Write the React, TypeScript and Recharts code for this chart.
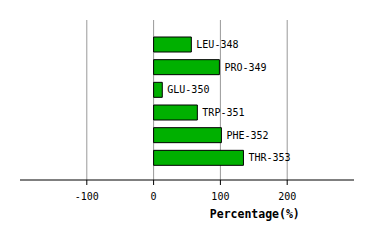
import { BarChart, Bar, XAxis, YAxis, CartesianGrid, LabelList } from 'recharts';

const residues = ['LEU-348', 'PRO-349', 'GLU-350', 'TRP-351', 'PHE-352', 'THR-353'];
const percentages = [56.5, 98.5, 13, 65.5, 101.5, 134.5];
const xTicks = [-100, 0, 100, 200];

const data = residues.map((name, i) => ({ name, value: percentages[i] }));

const FONT = '"DejaVu Sans Mono", monospace';

export default function App() {
  return (
    <div style={{ position: 'absolute', left: 0, top: 0, width: 374, height: 240, background: '#fff' }}>
      <BarChart
        width={374}
        height={240}
        data={data}
        layout="vertical"
        margin={{ top: 20, right: 20, bottom: 30, left: 20 }}
      >
        <CartesianGrid horizontal={false} stroke="#999" verticalValues={xTicks} />
        <XAxis
          type="number"
          domain={[-200, 300]}
          ticks={xTicks}
          allowDataOverflow
          height={30}
          axisLine={{ stroke: '#000' }}
          tickLine={{ stroke: '#000' }}
          tickSize={5}
          tickMargin={8}
          tick={{ fill: '#000', fontSize: 10, fontFamily: FONT }}
          label={{
            content: ({ viewBox }: any) => (
              <text
                x={viewBox.x + viewBox.width * 0.703}
                y={viewBox.y + 38}
                textAnchor="middle"
                fontFamily={FONT}
                fontSize={11.5}
                fontWeight="bold"
                fill="#000"
              >
                Percentage(%)
              </text>
            ),
          }}
        />
        <YAxis type="category" dataKey="name" hide padding={{ top: 13, bottom: 11 }} />
        <Bar dataKey="value" fill="#00b000" stroke="#000" strokeWidth={1} barSize={15} isAnimationActive={false}>
          <LabelList dataKey="name" position="right" offset={5} fill="#000" fontSize={10} fontFamily={FONT} />
        </Bar>
      </BarChart>
    </div>
  );
}
